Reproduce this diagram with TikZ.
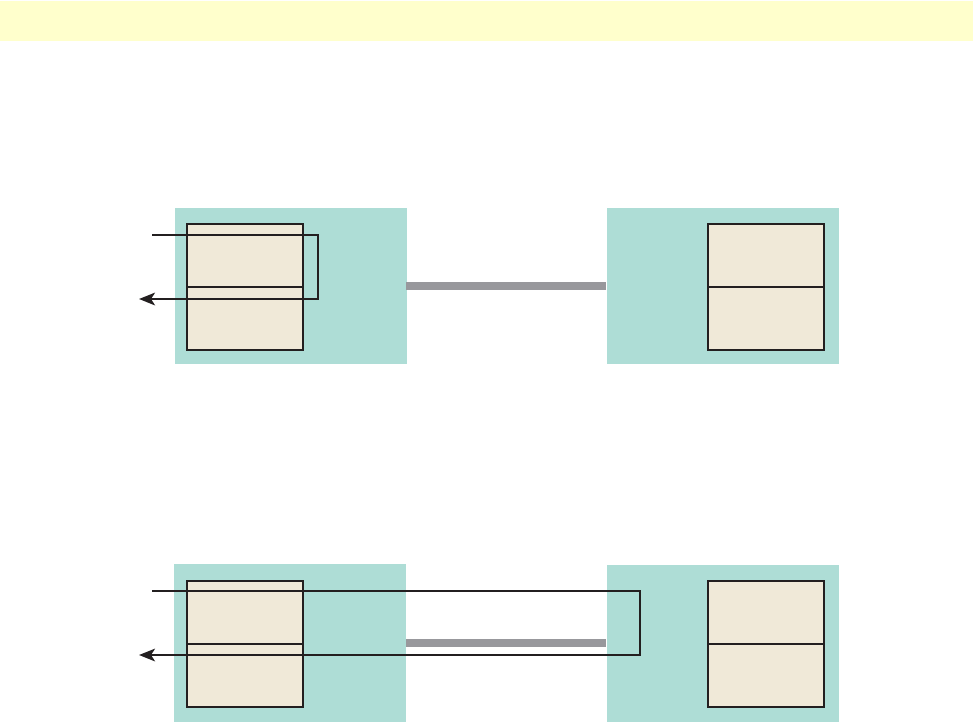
\documentclass[tikz,border=0pt]{standalone}
\usetikzlibrary{arrows.meta}
\definecolor{band}{HTML}{FFFFCC}
\definecolor{teal}{HTML}{AEDDD6}
\definecolor{cream}{HTML}{F0E9D8}
\definecolor{bar}{HTML}{98989C}
\definecolor{ink}{HTML}{231F20}
\begin{document}
\begin{tikzpicture}[x=0.75pt,y=-0.75pt,
  site/.style={fill=teal,draw=none,inner sep=0pt,minimum width=232*0.75pt,minimum height=156*0.75pt,anchor=north west},
  half/.style={fill=cream,draw=ink,line width=1.3pt,inner sep=0pt,minimum width=116*0.75pt,minimum height=63*0.75pt,anchor=north west},
  link/.style={fill=bar,draw=none,inner sep=0pt,minimum width=200*0.75pt,minimum height=7.5*0.75pt,anchor=north west},
  loop/.style={draw=ink,line width=1.7pt,-{Stealth[length=12pt,width=9.5pt,inset=3pt]}}]
\useasboundingbox (0,0) rectangle (973,721);
\fill[band] (0,1) rectangle (973,41);
% top row
\node[site] (sA) at (175,208) {};
\node[site] (sB) at (607,208) {};
\node[link] (l1) at (406,282) {};
\node[half] (a1) at (186,223) {};
\node[half] (a2) at (186,286) {};
\node[half] (b1) at (707,223) {};
\node[half] (b2) at (707,286) {};
\coordinate (s1) at (152,235);
\coordinate (t1) at (139,299);
\draw[loop] (s1) -- (318,235) -- (318,299) -- (t1);
% bottom row
\node[site,minimum height=158*0.75pt] (sC) at (174,564) {};
\node[site,minimum height=157*0.75pt] (sD) at (607,565) {};
\node[link] (l2) at (406,639) {};
\node[half] (c1) at (186,580) {};
\node[half] (c2) at (186,643) {};
\node[half] (d1) at (707,580) {};
\node[half] (d2) at (707,643) {};
\coordinate (s2) at (152,591);
\coordinate (t2) at (139,655);
\draw[loop] (s2) -- (640,591) -- (640,655) -- (t2);
\end{tikzpicture}
\end{document}
